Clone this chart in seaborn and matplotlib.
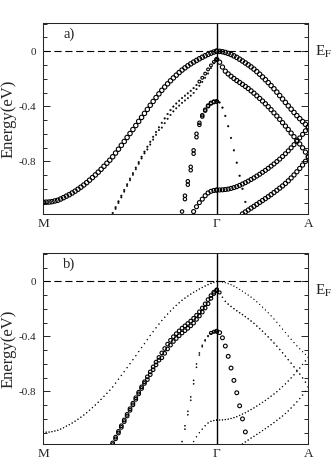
import numpy as np
import pandas as pd
import matplotlib
matplotlib.use("Agg")
import matplotlib.pyplot as plt
import seaborn as sns
from matplotlib.ticker import MultipleLocator

# k-path: M -> Gamma (60 steps), Gamma -> A (32 steps)
n_left = 60
n_right = 32
gamma_a = 0.528          # length of Gamma-A relative to M-Gamma
k_labels = ["M", "\u0393", "A"]

# band energies (eV), one value per k point
# M -> Gamma bands (start index on the left grid)
E_L1 = [-1.098, -1.097, -1.096, -1.093, -1.088, -1.083, -1.074, -1.064, -1.053, -1.042,
        -1.030, -1.017, -1.003, -0.988, -0.972, -0.955, -0.937, -0.918, -0.899, -0.879,
        -0.858, -0.836, -0.814, -0.792, -0.767, -0.740, -0.712, -0.684, -0.656, -0.627,
        -0.598, -0.569, -0.540, -0.510, -0.481, -0.452, -0.423, -0.393, -0.365, -0.337,
        -0.310, -0.284, -0.260, -0.237, -0.215, -0.194, -0.174, -0.155, -0.137, -0.121,
        -0.106, -0.092, -0.079, -0.067, -0.055, -0.044, -0.033, -0.023, -0.014, -0.006, 0.0]
E_L2a = [-1.175, -1.133, -1.091, -1.050, -1.008, -0.967, -0.926, -0.886, -0.846, -0.806,
         -0.767, -0.730, -0.694, -0.658, -0.622, -0.587, -0.553, -0.520, -0.488, -0.456,
         -0.428, -0.402, -0.380, -0.360, -0.340, -0.323, -0.306, -0.288, -0.268, -0.246,
         -0.221, -0.193, -0.163, -0.132, -0.103, -0.078, -0.062]
E_L2b = [-1.187, -1.145, -1.103, -1.062, -1.020, -0.979, -0.938, -0.898, -0.858, -0.818,
         -0.779, -0.742, -0.714, -0.678, -0.642, -0.607, -0.573, -0.555, -0.523, -0.491,
         -0.463, -0.437, -0.415, -0.395, -0.375, -0.358, -0.341, -0.323, -0.303, -0.276,
         -0.251, -0.223, -0.193, -0.162, -0.123, -0.088, -0.067]
E_L3a = [-1.165, -1.05, -0.945, -0.84, -0.72, -0.6, -0.52, -0.465, -0.425, -0.395,
         -0.375, -0.366, -0.364]
E_L3b = [-1.075, -0.97, -0.865, -0.745, -0.625, -0.535, -0.475, -0.432, -0.4, -0.38,
         -0.37, -0.366]
E_L4 = [-1.165, -1.13, -1.10, -1.075, -1.05, -1.03, -1.018, -1.012, -1.009]

# Gamma -> A bands
E_R1 = [0.0, -0.001, -0.004, -0.009, -0.016, -0.024, -0.034, -0.045, -0.058, -0.071,
        -0.085, -0.099, -0.114, -0.130, -0.148, -0.167, -0.187, -0.207, -0.228, -0.250,
        -0.273, -0.297, -0.322, -0.347, -0.372, -0.397, -0.421, -0.445, -0.468, -0.490,
        -0.511, -0.531, -0.550]
E_R2 = [-0.06, -0.08, -0.115, -0.145, -0.165, -0.182, -0.198, -0.213, -0.227, -0.241,
        -0.256, -0.271, -0.288, -0.305, -0.324, -0.343, -0.362, -0.382, -0.403, -0.425,
        -0.448, -0.471, -0.495, -0.519, -0.544, -0.569, -0.595, -0.621, -0.647, -0.674,
        -0.702, -0.733, -0.765]
E_R3 = [-1.009, -1.008, -1.007, -1.005, -1.002, -0.997, -0.991, -0.984, -0.975, -0.965,
        -0.955, -0.944, -0.932, -0.920, -0.907, -0.894, -0.880, -0.866, -0.851, -0.835,
        -0.819, -0.802, -0.784, -0.765, -0.745, -0.724, -0.702, -0.679, -0.655, -0.630,
        -0.604, -0.578, -0.553]
E_R4 = [-1.182, -1.168, -1.154, -1.140, -1.127, -1.113, -1.099, -1.085, -1.071, -1.057,
        -1.042, -1.027, -1.011, -0.995, -0.979, -0.961, -0.942, -0.921, -0.899, -0.876,
        -0.852, -0.827, -0.800, -0.770]
E_R5 = [-0.362, -0.372, -0.41, -0.47, -0.545, -0.63, -0.72, -0.81, -0.905, -1.0, -1.095]

# (side, first grid index, energies)
bands = {
    "L1": ("L", 0, E_L1), "L2a": ("L", 24, E_L2a), "L2b": ("L", 24, E_L2b),
    "L3a": ("L", 48, E_L3a), "L3b": ("L", 49, E_L3b), "L4": ("L", 52, E_L4),
    "R1": ("R", 0, E_R1), "R2": ("R", 0, E_R2), "R3": ("R", 0, E_R3),
    "R4": ("R", 9, E_R4), "R5": ("R", 0, E_R5),
}

# marker diameter in px (fat-band weight) per panel
size_a = {"L1": 4.4, "L2a": 1.6, "L2b": 1.5, "L3a": 3.4, "L3b": 3.4, "L4": 4.0,
          "R1": 4.4, "R2": 4.2, "R3": 4.0, "R4": 4.2, "R5": 1.7}
size_b = {"L1": 1.0, "L2a": 3.6, "L2b": 3.6, "L3a": 1.2, "L3b": 1.2, "L4": 1.0,
          "R1": 0.8, "R2": 1.1, "R3": 1.0, "R4": 1.0, "R5": 3.8}


def band_frame(name):
    side, start, energies = bands[name]
    idx = start + np.arange(len(energies))
    if side == "L":
        k = idx / n_left
    else:
        k = 1 + gamma_a * idx / n_right
    return pd.DataFrame({"k": k, "E": energies})


def marker_diam(name, panel):
    d = np.full(len(bands[name][2]), (size_a if panel == "a" else size_b)[name])
    # weights that grow close to Gamma
    if panel == "a" and name == "L2a":
        d[-7:] = 2.8
    if panel == "b" and name == "L3a":
        d[-3:] = 3.0
    if panel == "b" and name == "R2":
        d[:2] = 3.0
    return d


sns.set_style("ticks")
plt.rcParams["font.family"] = ["Liberation Serif", "DejaVu Serif"]
plt.rcParams["mathtext.fontset"] = "stix"

W, H = 332, 459
fig = plt.figure(figsize=(W / 100, H / 100), dpi=100)
ax_a = fig.add_axes([43.3 / W, 1 - 214.3 / H, 265 / W, 191.3 / H])
ax_b = fig.add_axes([43.3 / W, 1 - 444.3 / H, 265 / W, 191.0 / H])

for ax, panel in [(ax_a, "a"), (ax_b, "b")]:
    for name in bands:
        d = marker_diam(name, panel)
        small = d < 2
        # tiny weights show up as solid dots, large ones as open circles
        lw = np.where(small, 0.3, 0.8)
        fc = ["black" if sm else "none" for sm in small]
        sns.scatterplot(data=band_frame(name), x="k", y="E", ax=ax,
                        s=(d * 72 / 100) ** 2, marker="o",
                        facecolor=fc, edgecolor="black", linewidth=lw,
                        legend=False, zorder=3)

    ax.axhline(0, color="black", lw=0.8, dashes=(6.5, 3.3), zorder=2)
    ax.axvline(1, color="black", lw=1.0, zorder=2)

    ax.set_xlim(0, 1 + gamma_a)
    ax.set_ylim(-1.185, 0.205)
    ax.set_xticks([0, 1, 1 + gamma_a])
    ax.set_xticklabels(k_labels, fontsize=9.5)
    ax.tick_params(axis="x", length=0, pad=3)
    ax.set_yticks([0, -0.4, -0.8])
    ax.set_yticklabels(["0", "-0.4", "-0.8"], fontsize=8)
    ax.yaxis.set_minor_locator(MultipleLocator(0.1))
    ax.tick_params(axis="y", which="major", direction="in", length=5, width=0.7,
                   right=True, pad=5)
    ax.tick_params(axis="y", which="minor", direction="in", length=3, width=0.7,
                   right=True)
    ax.set_xlabel("")
    ax.set_ylabel("Energy(eV)", fontsize=12)
    ax.yaxis.set_label_coords(-0.1, 0.5)
    for sp in ax.spines.values():
        sp.set_linewidth(0.75)
        sp.set_visible(True)

fig.text(63 / W, 1 - 38 / H, "a)", fontsize=10.5, va="baseline")
fig.text(63 / W, 1 - 268 / H, "b)", fontsize=10.5, va="baseline")
fig.text(315 / W, 1 - 56 / H, r"E$_{\rm F}$", fontsize=11, va="baseline")
fig.text(315 / W, 1 - 295 / H, r"E$_{\rm F}$", fontsize=11, va="baseline")

fig.savefig("out.png", dpi=100)
